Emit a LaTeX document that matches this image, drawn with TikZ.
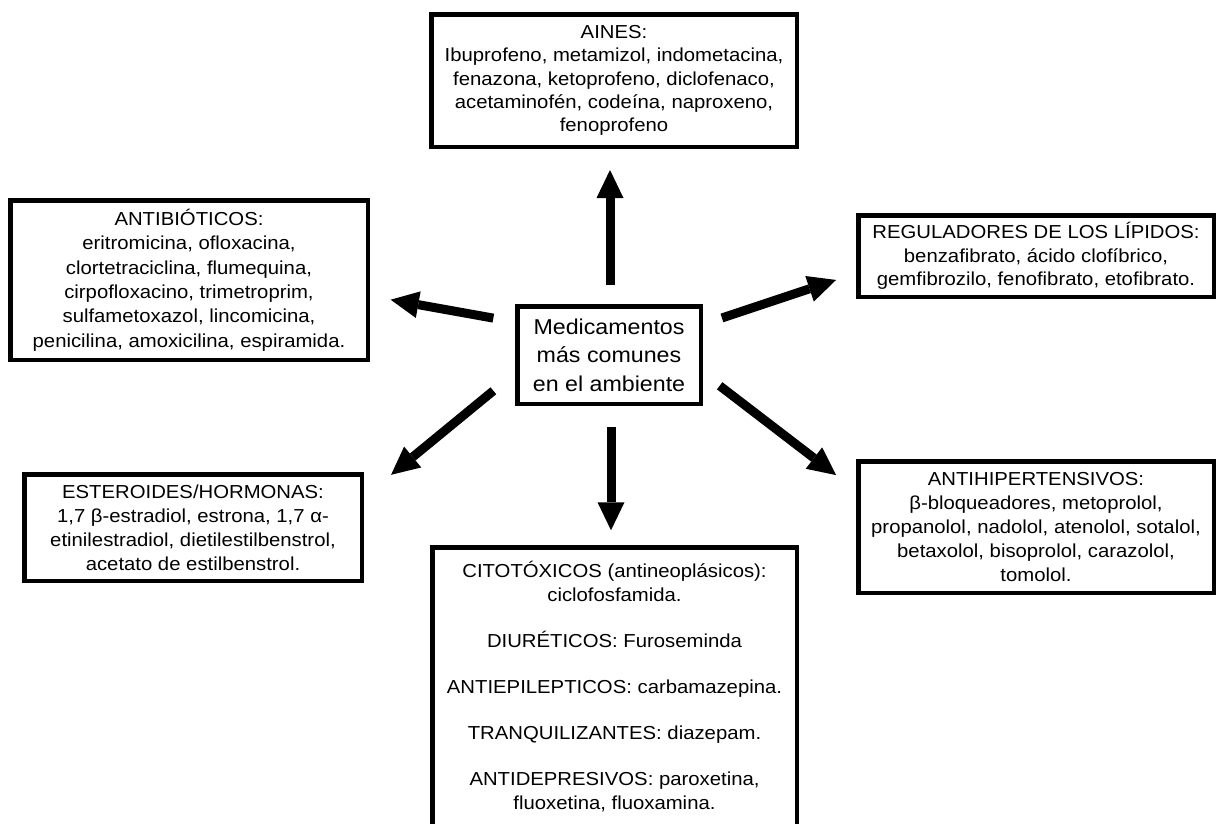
\documentclass[tikz,border=0pt]{standalone}
\usepackage{fontspec}
\setmainfont{Liberation Sans}[FakeStretch=1.08]
\usetikzlibrary{arrows.meta}
\begin{document}
\begin{tikzpicture}[x=1pt,y=-1pt,
  box/.style={draw, line width=4.5pt, align=center, inner sep=0pt, text=black,
    font=\fontsize{18.8pt}{24pt}\selectfont},
  arr/.style={line width=9pt, -{Triangle[length=28pt,width=27pt,line width=0pt]}}]
\useasboundingbox (0,0) rectangle (1219,823);

\node[box, minimum width=365.5pt, minimum height=132.5pt,
      font=\fontsize{18.8pt}{23.3pt}\selectfont] (aines) at (614,80.5)
  {AINES:\\Ibuprofeno, metamizol, indometacina,\\fenazona, ketoprofeno, diclofenaco,\\acetaminofén, codeína, naproxeno,\\fenoprofeno};

\node[box, minimum width=357.5pt, minimum height=159.5pt,
      font=\fontsize{18.8pt}{24.4pt}\selectfont] (antibiot) at (189,280)
  {ANTIBIÓTICOS:\\eritromicina, ofloxacina,\\clortetraciclina, flumequina,\\cirpofloxacino, trimetroprim,\\sulfametoxazol, lincomicina,\\penicilina, amoxicilina, espiramida.};

\node[box, minimum width=183.5pt, minimum height=97.5pt,
      font=\fontsize{21.5pt}{28.5pt}\selectfont] (central) at (609,355)
  {Medicamentos\\más comunes\\en el ambiente};

\node[box, minimum width=355.5pt, minimum height=81.5pt,
      font=\fontsize{18.8pt}{23.5pt}\selectfont] (regul) at (1036,256)
  {REGULADORES DE LOS LÍPIDOS:\\benzafibrato, ácido clofíbrico,\\gemfibrozilo, fenofibrato, etofibrato.};

\node[box, minimum width=355.5pt, minimum height=131.5pt] (antihip) at (1036,527)
  {ANTIHIPERTENSIVOS:\\β-bloqueadores, metoprolol,\\propanolol, nadolol, atenolol, sotalol,\\betaxolol, bisoprolol, carazolol,\\tomolol.};

\node[box, minimum width=337.5pt, minimum height=106.5pt] (esteroides) at (193,527.5)
  {ESTEROIDES/HORMONAS:\\1,7 β-estradiol, estrona, 1,7 α-\\etinilestradiol, dietilestilbenstrol,\\acetato de estilbenstrol.};

\node[box, anchor=north, minimum width=364.5pt, minimum height=300pt] (citotox) at (614.5,545.25)
  {CITOTÓXICOS (antineoplásicos):\\ciclofosfamida.\\[22pt]DIURÉTICOS: Furoseminda\\[22pt]ANTIEPILEPTICOS: carbamazepina.\\[22pt]TRANQUILIZANTES: diazepam.\\[22pt]ANTIDEPRESIVOS: paroxetina,\\fluoxetina, fluoxamina.\\[1pt]\mbox{}};

% arrows
\draw[arr, shorten <=19pt, shorten >=21pt] ([xshift=1pt]central.north) -- ([xshift=-4pt]aines.south);
\draw[arr, shorten <=22pt, shorten >=21pt] ([yshift=33pt]central.west) -- ([yshift=-16pt]antibiot.east);
\draw[arr, shorten <=28pt, shorten >=35pt] ([yshift=-18pt]central.west) -- ([yshift=30.5pt]esteroides.east);
\draw[arr, shorten <=21pt, shorten >=15pt] ([xshift=2pt]central.south) -- ([xshift=-3.5pt]citotox.north);
\draw[arr, shorten <=20pt, shorten >=21pt] ([yshift=30.7pt]central.east) -- ([yshift=-17.3pt]regul.west);
\draw[arr, shorten <=21pt, shorten >=25pt] ([yshift=-18pt]central.east) -- ([yshift=36.7pt]antihip.west);
\end{tikzpicture}
\end{document}
